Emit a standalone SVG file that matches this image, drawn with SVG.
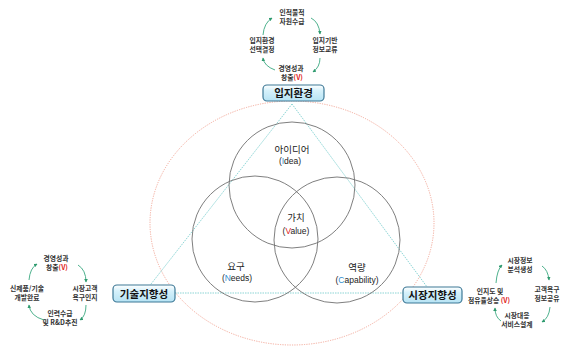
<svg xmlns="http://www.w3.org/2000/svg" width="564" height="346" viewBox="0 0 564 346">
<defs>
<linearGradient id="boxg" x1="0" y1="0" x2="0" y2="1">
<stop offset="0" stop-color="#ffffff"/>
<stop offset="0.35" stop-color="#d6f1fb"/>
<stop offset="1" stop-color="#b6e3f4"/>
</linearGradient>
<marker id="ah" viewBox="0 0 6 6" refX="5" refY="3" markerWidth="4" markerHeight="4" orient="auto">
<path d="M0,0 L6,3 L0,6 z" fill="#2e9a6e"/>
</marker>
</defs>
<style>
.node rect{fill:url(#boxg);stroke:#3d7896;stroke-width:1.2}
.node text{font-family:"Noto Sans CJK KR","Noto Sans",sans-serif;font-weight:bold;font-size:10.5px;fill:#111;text-anchor:middle}
.cyc{font-family:"Noto Sans CJK KR","Noto Sans",sans-serif;font-weight:bold;font-size:6.8px;fill:#333;text-anchor:middle}
.v{fill:#e0201a}
.ven{fill:none;stroke:#707070;stroke-width:0.9}
.vt{font-family:"Noto Sans CJK KR","Noto Sans",sans-serif;font-size:9.5px;fill:#222;text-anchor:middle}
.vs{font-family:"Liberation Sans","Noto Sans",sans-serif;font-size:8.5px;fill:#222;text-anchor:middle}
.b{fill:#2f8fd0}
.r{fill:#e0201a}
.tri{fill:none;stroke:#80d0d0;stroke-width:0.9;stroke-dasharray:1.5 1}
.ell{fill:none;stroke:#f0a090;stroke-width:0.9;stroke-dasharray:1.2 1.2}
.arr{fill:none;stroke:#3aa880;stroke-width:0.9;marker-end:url(#ah)}
</style>
<g id="connectors">
<ellipse class="ell" cx="292" cy="223" rx="142" ry="122"/>
<path class="tri" d="M292,104 L144,293 M292,104 L433,295 M175,293 L403,293"/>
</g>
<g id="venn">
<circle class="ven" cx="292" cy="185" r="63"/>
<circle class="ven" cx="255" cy="239" r="63"/>
<circle class="ven" cx="337" cy="240" r="63"/>
<text class="vt" x="292" y="153">아이디어</text>
<text class="vs" x="290" y="164">(<tspan class="b">I</tspan>dea)</text>
<text class="vt" x="296" y="221">가치</text>
<text class="vs" x="296" y="234">(<tspan class="r">V</tspan>alue)</text>
<text class="vt" x="236" y="270">요구</text>
<text class="vs" x="237" y="281">(<tspan class="b">N</tspan>eeds)</text>
<text class="vt" x="357" y="271">역량</text>
<text class="vs" x="357" y="283">(<tspan class="b">C</tspan>apability)</text>
</g>
<g id="node-top" class="node">
<rect x="263" y="85" width="61" height="16" rx="4"/>
<text x="293.5" y="97">입지환경</text>
</g>
<g id="node-left" class="node">
<rect x="113" y="285" width="62" height="17" rx="4"/>
<text x="144" y="297.5">기술지향성</text>
</g>
<g id="node-right" class="node">
<rect x="403" y="287" width="59" height="16" rx="4"/>
<text x="432.5" y="299">시장지향성</text>
</g>
<g id="cycle-top">
<text class="cyc" x="292" y="15">인적물적</text>
<text class="cyc" x="292" y="23.5">자원수급</text>
<text class="cyc" x="262" y="43">입지환경</text>
<text class="cyc" x="262" y="51.5">선택결정</text>
<text class="cyc" x="325" y="43">입지기반</text>
<text class="cyc" x="325" y="51.5">정보교류</text>
<text class="cyc" x="291" y="71">경영성과</text>
<text class="cyc" x="292" y="79.5">창출<tspan class="v">(V)</tspan></text>
<path class="arr" d="M311,18 Q319,22 320,34"/>
<path class="arr" d="M320,58 Q320,67 313,72"/>
<path class="arr" d="M275,70 Q264,66 263,58"/>
<path class="arr" d="M263,35 Q264,23 272,18"/>
</g>
<g id="cycle-left">
<text class="cyc" x="56" y="261">경영성과</text>
<text class="cyc" x="57" y="269.5">창출<tspan class="v">(V)</tspan></text>
<text class="cyc" x="27" y="291">신제품/기술</text>
<text class="cyc" x="27" y="299.5">개발완료</text>
<text class="cyc" x="85" y="291">시장고객</text>
<text class="cyc" x="85" y="299.5">욕구인지</text>
<text class="cyc" x="60" y="316">인력수급</text>
<text class="cyc" x="60" y="324.5">및 R&amp;D추진</text>
<path class="arr" d="M78,265 Q86,270 86,282"/>
<path class="arr" d="M86,305 Q86,316 80,320"/>
<path class="arr" d="M44,320 Q30,316 29,305"/>
<path class="arr" d="M29,280 Q30,268 37,264"/>
</g>
<g id="cycle-right">
<text class="cyc" x="520" y="263">시장정보</text>
<text class="cyc" x="520" y="271.5">분석생성</text>
<text class="cyc" x="547" y="292">고객욕구</text>
<text class="cyc" x="547" y="300.5">정보공유</text>
<text class="cyc" x="517" y="318">시장대응</text>
<text class="cyc" x="517" y="326.5">서비스설계</text>
<text class="cyc" x="490" y="294">인지도 및</text>
<text class="cyc" x="489" y="302.5">점유율상승 <tspan class="v">(V)</tspan></text>
<path class="arr" d="M542,266 Q548,270 549,280"/>
<path class="arr" d="M550,307 Q549,318 542,322"/>
<path class="arr" d="M501,321 Q495,317 495,308"/>
<path class="arr" d="M496,283 Q497,270 502,265"/>
</g>
</svg>
